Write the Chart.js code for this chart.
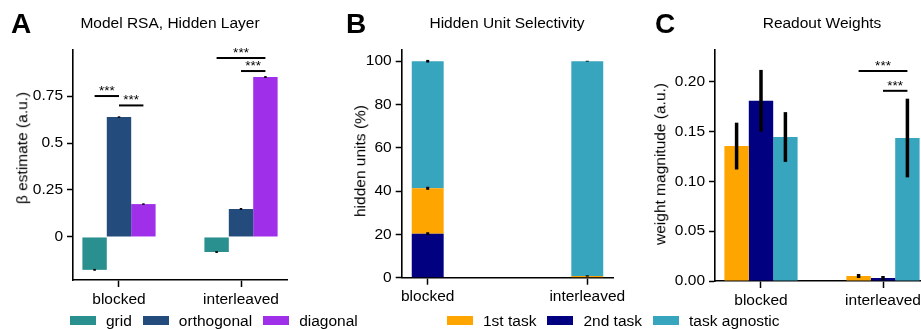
<!DOCTYPE html>
<html>
<head>
<meta charset="utf-8">
<script src="https://cdn.jsdelivr.net/npm/chart.js@4.4.1/dist/chart.umd.min.js"></script>
<style>
  html, body { margin: 0; padding: 0; background: #fff; overflow: hidden; }
  body { width: 921px; height: 329px; position: relative; font-family: "Liberation Sans", Arial, sans-serif; color: #000; }
  canvas { position: absolute; left: 0; top: 0; }
  .lbl { position: absolute; white-space: nowrap; transform: translate(-50%, -50%); line-height: 1; font-size: 15.5px; }
  .letter { font-weight: bold; font-size: 28px; }
  .ylab { transform: translate(-50%, -50%) rotate(-90deg); }
  .legend { position: absolute; top: 313px; display: flex; align-items: center; font-size: 15.5px; line-height: 1; white-space: nowrap; }
  .legend .item { display: flex; align-items: center; margin-right: 11px; }
  .legend .box { display: inline-block; width: 26px; height: 9px; margin-right: 10px; }
</style>
</head>
<body>
<canvas id="chartA" width="960" height="329"></canvas>
<canvas id="chartB" width="960" height="329"></canvas>
<canvas id="chartC" width="960" height="329"></canvas>

<div class="lbl letter" style="left:21px; top:24px;">A</div>
<div class="lbl letter" style="left:356px; top:24px;">B</div>
<div class="lbl letter" style="left:665px; top:24px;">C</div>

<div class="lbl" style="left:170px; top:23px;">Model RSA, Hidden Layer</div>
<div class="lbl" style="left:507px; top:23px;">Hidden Unit Selectivity</div>
<div class="lbl" style="left:822px; top:23px;">Readout Weights</div>

<div class="lbl ylab" style="left:22px; top:148px;">β estimate (a.u.)</div>
<div class="lbl ylab" style="left:360px; top:161px;">hidden units (%)</div>
<div class="lbl ylab" style="left:660px; top:164px;">weight magnitude (a.u.)</div>

<div class="legend" id="legendA" style="left:70px;"></div>
<div class="legend" id="legendBC" style="left:447px;"></div>

<script>
// categories on the x axis
const categories = ["blocked", "interleaved"];

// A: model RSA betas
const rsaNames = ["grid", "orthogonal", "diagonal"];
const rsaGrid = [-0.175, -0.08];
const rsaOrthogonal = [0.638, 0.149];
const rsaDiagonal = [0.175, 0.851];
const rsaGridErr = [0.005, 0.005];
const rsaOrthogonalErr = [0.004, 0.005];
const rsaDiagonalErr = [0.004, 0.005];
const rsaTicks = [0, 0.25, 0.5, 0.75];
const rsaTickLabels = ["0", "0.25", "0.5", "0.75"];
// [category, bar a, bar b, height]
const rsaSig = [[0, 0, 1, 0.75], [0, 1, 2, 0.70], [1, 0, 2, 0.952], [1, 1, 2, 0.883]];

// B: hidden unit selectivity (%)
const taskNames = ["1st task", "2nd task", "task agnostic"];
const unitsFirst = [21.0, 0.8];
const unitsSecond = [20.3, 0];
const unitsAgnostic = [58.7, 99.2];
const unitsFirstErr = [0.7, 0.3];
const unitsSecondErr = [0.7, 0];
const unitsAgnosticErr = [0.6, 0.2];
const unitTicks = [0, 20, 40, 60, 80, 100];
const unitTickLabels = ["0", "20", "40", "60", "80", "100"];

// C: readout weights
const weightFirst = [0.1355, 0.005];
const weightSecond = [0.181, 0.003];
const weightAgnostic = [0.1446, 0.1436];
const weightFirstErr = [0.0235, 0.002];
const weightSecondErr = [0.031, 0.002];
const weightAgnosticErr = [0.025, 0.0395];
const weightTicks = [0, 0.05, 0.10, 0.15, 0.20];
const weightTickLabels = ["0.00", "0.05", "0.10", "0.15", "0.20"];
const weightSig = [[1, 0, 2, 0.211], [1, 1, 2, 0.191]];

const rsaColors = ["#29908f", "#234c7d", "#a02fe9"];
const taskColors = ["#ffa500", "#000080", "#38a5bf"];

Chart.defaults.font.family = '"Liberation Sans", Arial, sans-serif';
Chart.defaults.font.size = 15.5;
Chart.defaults.color = "#000";

const errorBars = {
  id: "errorBars",
  afterDatasetsDraw(chart) {
    const ctx = chart.ctx, y = chart.scales.y;
    chart.data.datasets.forEach((ds, d) => {
      if (!ds.errors) return;
      chart.getDatasetMeta(d).data.forEach((bar, i) => {
        const e = ds.errors[i];
        if (!e) return;
        const top = y.getValueForPixel(bar.y);
        ctx.save();
        ctx.strokeStyle = "#000";
        ctx.lineWidth = ds.errorWidth || 3;
        ctx.beginPath();
        ctx.moveTo(bar.x, y.getPixelForValue(top - e));
        ctx.lineTo(bar.x, y.getPixelForValue(top + e));
        ctx.stroke();
        ctx.restore();
      });
    });
  }
};

const sigBars = {
  id: "sigBars",
  afterDatasetsDraw(chart, args, opts) {
    const ctx = chart.ctx, y = chart.scales.y;
    (opts.pairs || []).forEach(([cat, a, b, level]) => {
      const x1 = chart.getDatasetMeta(a).data[cat].x;
      const x2 = chart.getDatasetMeta(b).data[cat].x;
      const py = y.getPixelForValue(level);
      ctx.save();
      ctx.strokeStyle = "#000";
      ctx.lineWidth = 2;
      ctx.beginPath();
      ctx.moveTo(x1, py);
      ctx.lineTo(x2, py);
      ctx.stroke();
      ctx.fillStyle = "#000";
      ctx.font = '13.5px "Liberation Sans", Arial, sans-serif';
      ctx.textAlign = "center";
      ctx.textBaseline = "alphabetic";
      ctx.fillText("***", (x1 + x2) / 2, py - 1);
      ctx.restore();
    });
  }
};

function points(vals) {
  return vals.map((v, i) => ({ x: i, y: v }));
}

function makeChart(id, box, xRange, yRange, yTicks, yLabels, datasets, opts) {
  const stacked = !!opts.stacked;
  return new Chart(document.getElementById(id), {
    type: "bar",
    data: { datasets },
    plugins: [errorBars, sigBars],
    options: {
      responsive: false,
      animation: false,
      layout: { padding: { left: box.padLeft, top: box.top, right: 960 - box.right, bottom: 0 } },
      datasets: { bar: { categoryPercentage: opts.catPct, barPercentage: 1 } },
      plugins: {
        legend: { display: false },
        tooltip: { enabled: false },
        sigBars: { pairs: opts.sig || [] }
      },
      scales: {
        x: {
          type: "linear",
          min: xRange[0],
          max: xRange[1],
          offset: false,
          stacked,
          afterBuildTicks: s => { s.ticks = categories.map((c, i) => ({ value: i })); },
          afterFit: s => { s.height = 329 - box.bottom; },
          ticks: { callback: v => categories[v], padding: 3, maxRotation: 0, autoSkip: false, color: "#000" },
          grid: { offset: false, drawOnChartArea: false, tickLength: 7, tickWidth: 1.5, tickColor: "#000" },
          border: { color: "#000", width: 1.6 }
        },
        y: {
          min: yRange[0],
          max: yRange[1],
          stacked,
          afterBuildTicks: s => { s.ticks = yTicks.map(v => ({ value: v })); },
          afterFit: s => { s.width = box.left - box.padLeft; },
          ticks: { callback: v => yLabels[yTicks.indexOf(v)], padding: 4, color: "#000" },
          grid: { drawOnChartArea: false, tickLength: 6, tickWidth: 1.5, tickColor: "#000" },
          border: { color: "#000", width: 1.6 }
        }
      }
    }
  });
}

makeChart("chartA",
  { padLeft: 0, left: 73, top: 50, right: 287, bottom: 280 },
  [-0.377, 1.377], [-0.229, 0.995], rsaTicks, rsaTickLabels,
  [
    { label: rsaNames[0], data: points(rsaGrid), backgroundColor: rsaColors[0], errors: rsaGridErr, errorWidth: 2.5 },
    { label: rsaNames[1], data: points(rsaOrthogonal), backgroundColor: rsaColors[1], errors: rsaOrthogonalErr, errorWidth: 2.5 },
    { label: rsaNames[2], data: points(rsaDiagonal), backgroundColor: rsaColors[2], errors: rsaDiagonalErr, errorWidth: 2.5 }
  ],
  { catPct: 0.6, sig: rsaSig });

// stacking order: 2nd task at the bottom, then 1st task, then task agnostic
makeChart("chartB",
  { padLeft: 300, left: 401.7, top: 49.3, right: 613.3, bottom: 277.7 },
  [-0.163, 1.163], [0, 105.5], unitTicks, unitTickLabels,
  [
    { label: taskNames[1], data: points(unitsSecond), backgroundColor: taskColors[1], errors: unitsSecondErr, errorWidth: 3 },
    { label: taskNames[0], data: points(unitsFirst), backgroundColor: taskColors[0], errors: unitsFirstErr, errorWidth: 3 },
    { label: taskNames[2], data: points(unitsAgnostic), backgroundColor: taskColors[2], errors: unitsAgnosticErr, errorWidth: 3 }
  ],
  { catPct: 0.2, stacked: true });

makeChart("chartC",
  { padLeft: 620, left: 715, top: 50, right: 929, bottom: 281 },
  [-0.377, 1.377], [0, 0.232], weightTicks, weightTickLabels,
  [
    { label: taskNames[0], data: points(weightFirst), backgroundColor: taskColors[0], errors: weightFirstErr, errorWidth: 3.5 },
    { label: taskNames[1], data: points(weightSecond), backgroundColor: taskColors[1], errors: weightSecondErr, errorWidth: 3.5 },
    { label: taskNames[2], data: points(weightAgnostic), backgroundColor: taskColors[2], errors: weightAgnosticErr, errorWidth: 3.5 }
  ],
  { catPct: 0.6, sig: weightSig });

function buildLegend(id, names, colors) {
  const el = document.getElementById(id);
  names.forEach((n, i) => {
    const item = document.createElement("div");
    item.className = "item";
    const box = document.createElement("span");
    box.className = "box";
    box.style.background = colors[i];
    const txt = document.createElement("span");
    txt.textContent = n;
    item.appendChild(box);
    item.appendChild(txt);
    el.appendChild(item);
  });
}
buildLegend("legendA", rsaNames, rsaColors);
buildLegend("legendBC", taskNames, taskColors);
</script>
</body>
</html>
